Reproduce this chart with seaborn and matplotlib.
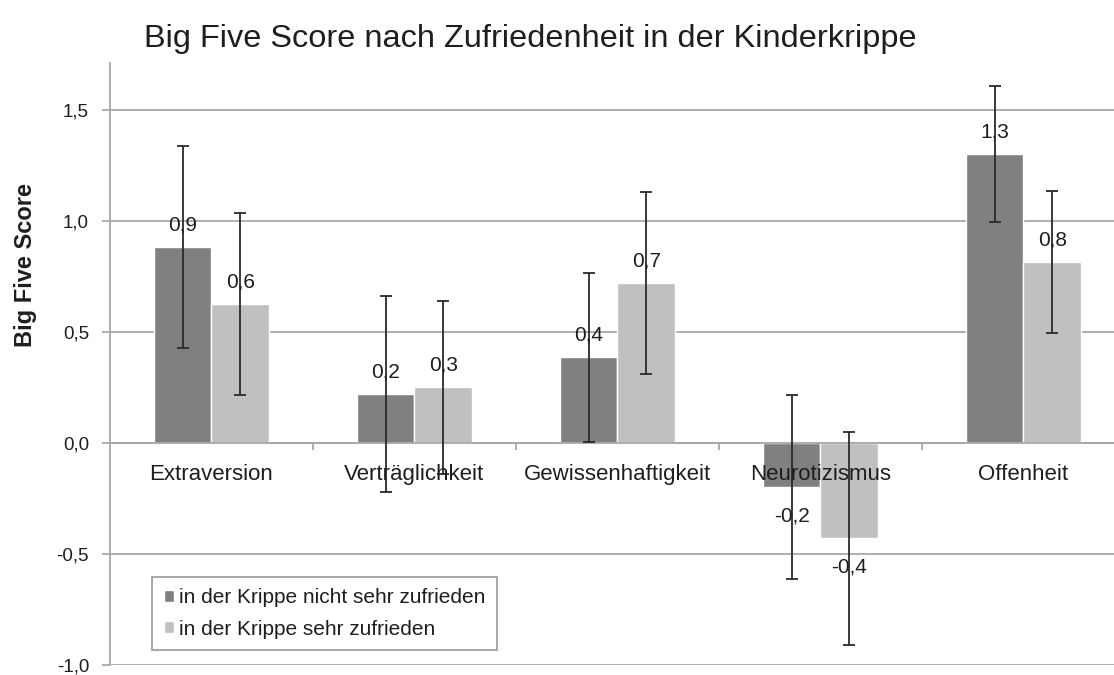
import numpy as np
import pandas as pd
import matplotlib.pyplot as plt
import seaborn as sns
from matplotlib.ticker import FuncFormatter, FixedLocator
from matplotlib.transforms import offset_copy

kategorien = ["Extraversion", "Verträglichkeit", "Gewissenhaftigkeit", "Neurotizismus", "Offenheit"]
gruppen = ["in der Krippe nicht sehr zufrieden", "in der Krippe sehr zufrieden"]
werte_nicht = [0.88, 0.22, 0.385, -0.20, 1.30]
werte_sehr = [0.625, 0.25, 0.72, -0.43, 0.815]
fehler_nicht = [0.455, 0.44, 0.38, 0.415, 0.305]
fehler_sehr = [0.41, 0.39, 0.41, 0.48, 0.32]
labels_nicht = ["0,9", "0,2", "0,4", "-0,2", "1,3"]
labels_sehr = ["0,6", "0,3", "0,7", "-0,4", "0,8"]

df = pd.DataFrame({
    "Faktor": kategorien * 2,
    "Score": werte_nicht + werte_sehr,
    "Gruppe": [gruppen[0]] * 5 + [gruppen[1]] * 5,
})

sns.set_style("white")
plt.rcParams["font.family"] = ["Liberation Sans", "DejaVu Sans"]
textfarbe = "#1e1e1e"
gitter = "#a8a8a8"

fig = plt.figure(figsize=(11.14, 6.75), dpi=100)
ax = fig.add_axes([0.0987, 0.0148, 0.9013, 0.8919])

sns.barplot(data=df, x="Faktor", y="Score", hue="Gruppe", hue_order=gruppen,
            palette=["#808080", "#c0c0c0"], width=0.57, gap=0, errorbar=None,
            saturation=1, ax=ax)

# Fehlerbalken und Beschriftungen (negative Werte etwas weiter unten)
for cont, fehler, labels in zip(ax.containers, [fehler_nicht, fehler_sehr], [labels_nicht, labels_sehr]):
    xs = [p.get_x() + p.get_width() / 2 for p in cont]
    ax.errorbar(xs, cont.datavalues, yerr=fehler, fmt="none", ecolor="#2a2a2a",
                elinewidth=1.3, capsize=4.5, capthick=1.3, zorder=4)
    pos_lab = [l if v >= 0 else "" for l, v in zip(labels, cont.datavalues)]
    neg_lab = [l if v < 0 else "" for l, v in zip(labels, cont.datavalues)]
    ax.bar_label(cont, labels=pos_lab, padding=9, fontsize=15, color=textfarbe, zorder=5)
    ax.bar_label(cont, labels=neg_lab, padding=14, fontsize=15, color=textfarbe, zorder=5)

ax.set_ylim(-1.0, 1.71)
ax.set_xlim(-0.5, 4.446)
ax.set_yticks([-1.0, -0.5, 0.0, 0.5, 1.0, 1.5])
ax.yaxis.set_major_formatter(FuncFormatter(lambda v, p: f"{v:.1f}".replace(".", ",")))
ax.yaxis.grid(True, color=gitter, linewidth=1.3)
ax.set_axisbelow(True)

for s in ["top", "right"]:
    ax.spines[s].set_visible(False)
ax.spines["left"].set_color(gitter)
ax.spines["left"].set_linewidth(1.3)
ax.spines["bottom"].set_position(("data", 0))
ax.spines["bottom"].set_color(gitter)
ax.spines["bottom"].set_linewidth(1.3)

ax.tick_params(axis="y", which="major", length=6, width=1.3, color=gitter,
               labelsize=13.5, labelcolor=textfarbe, pad=9, left=True)
ax.xaxis.set_minor_locator(FixedLocator([0.5, 1.5, 2.5, 3.5]))
ax.tick_params(axis="x", which="major", length=0, labelbottom=False)
ax.tick_params(axis="x", which="minor", length=5, width=1.3, color=gitter, bottom=True)
ax.set_xlabel("")

# Kategorienamen direkt unter der Nulllinie, über den Balken
trans = offset_copy(ax.transData, fig=fig, y=-22.5, units="points")
for pos, name in zip(ax.get_xticks(), kategorien):
    ax.text(pos, 0, name, transform=trans, ha="center", va="center",
            fontsize=16, color=textfarbe, zorder=6)

ax.set_ylabel("Big Five Score", fontsize=17, fontweight="bold", color=textfarbe)
ax.yaxis.set_label_coords(-0.073, 0.664)

leg = ax.legend(loc="lower left", bbox_to_anchor=(0.042, 0.025), fontsize=15,
                frameon=True, fancybox=False, edgecolor="#a0a0a0",
                handlelength=0.5, handleheight=0.5, handletextpad=0.25,
                borderpad=0.55, labelspacing=0.6, framealpha=1, borderaxespad=0)
for t in leg.get_texts():
    t.set_color(textfarbe)
leg.get_frame().set_linewidth(1.3)

fig.text(0.476, 0.942, "Big Five Score nach Zufriedenheit in der Kinderkrippe",
         ha="center", va="center", fontsize=23.4, color=textfarbe)

fig.savefig("out.png", dpi=100)
